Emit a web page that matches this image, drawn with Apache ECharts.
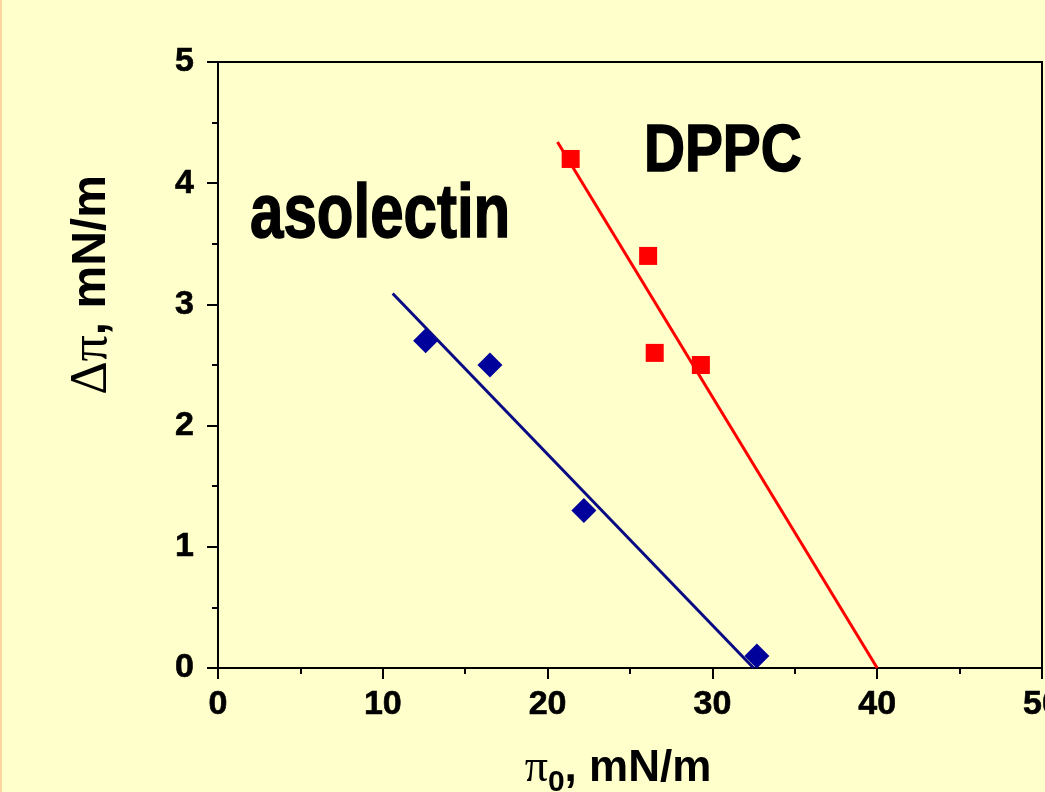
<!DOCTYPE html>
<html>
<head>
<meta charset="utf-8">
<script src="https://cdn.jsdelivr.net/npm/echarts@6/dist/echarts.min.js"></script>
<style>
	html, body { margin: 0; padding: 0; background: #FFFFCC; }
	#main { width: 1045px; height: 792px; }
</style>
</head>
<body>
<div id="main"></div>
<script>
// 数据
var dppcPoints = [[21.4, 4.2], [26.1, 3.4], [26.5, 2.6], [29.3, 2.5]];
var dppcFit = [[20.6, 4.34], [40.0, 0.0]];
var asolectinPoints = [[12.6, 2.7], [16.5, 2.5], [22.2, 1.3], [32.7, 0.1]];
var asolectinFit = [[10.6, 3.09], [32.5, 0.0]];
var xTicks = { min : 0, max : 50, interval : 10 };
var yTicks = { min : 0, max : 5, interval : 1 };

var FONT = '"Liberation Sans", Arial, sans-serif';

var myChart = echarts.init(document.getElementById('main'));

var axisCommon = {
	axisLine : { show : true, lineStyle : { color : '#000', width : 2 } },
	axisTick : { show : true, inside : false, length : 11, lineStyle : { color : '#000', width : 2 } },
	minorTick : { show : true, splitNumber : 2, length : 6, lineStyle : { color : '#000', width : 2 } },
	splitLine : { show : false },
	axisLabel : {
		color : '#000',
		fontFamily : FONT,
		fontWeight : 'bold',
		fontSize : 34,
		textBorderColor : '#000',
		textBorderWidth : 0.6
	}
};

option = {
	backgroundColor : '#FFFFCC',
	animation : false,
	grid : {
		left : 218,
		right : 3,
		top : 62,
		bottom : 124,
		outerBoundsMode : 'none',
		containLabel : false,
		show : true,
		borderColor : '#000',
		borderWidth : 2,
		backgroundColor : 'transparent'
	},
	xAxis : echarts.util.merge({
		type : 'value',
		min : xTicks.min,
		max : xTicks.max,
		interval : xTicks.interval,
		name : '{p|π}{s|0}{n|, mN/m}',
		nameLocation : 'middle',
		nameGap : 72,
		nameTextStyle : {
			padding : [0, 24, 0, 0],
			rich : {
				p : { fontFamily : '"Liberation Serif", serif', fontSize : 46, color : '#000' },
				s : { fontFamily : FONT, fontWeight : 'bold', fontSize : 30, color : '#000', padding : [28, 0, 0, 0] },
				n : { fontFamily : FONT, fontWeight : 'bold', fontSize : 44, color : '#000' }
			}
		},
		axisLabel : { margin : 20 }
	}, axisCommon),
	yAxis : echarts.util.merge({
		type : 'value',
		min : yTicks.min,
		max : yTicks.max,
		interval : yTicks.interval,
		name : '{p|Δπ}{n|, mN/m}',
		nameLocation : 'middle',
		nameRotate : 90,
		nameGap : 100,
		nameTextStyle : {
			padding : [0, 0, 0, 160],
			rich : {
				p : { fontFamily : '"Liberation Serif", serif', fontSize : 52, color : '#000' },
				n : { fontFamily : FONT, fontWeight : 'bold', fontSize : 48, color : '#000' }
			}
		},
		axisLabel : { margin : 24 }
	}, axisCommon),
	graphic : [
		{ type : 'rect', left : 0, top : 0, shape : { width : 2, height : 792 }, style : { fill : '#FFD6A0' } },
		{
			type : 'text', x : 250, y : 216, scaleX : 0.79,
			style : { text : 'asolectin', x : 0, y : 0, font : 'bold 76px ' + FONT, fill : '#000',
				stroke : '#000', lineWidth : 1.5,
				align : 'left', verticalAlign : 'middle', textAlign : 'left', textVerticalAlign : 'middle' }
		},
		{
			type : 'text', x : 644, y : 153, scaleX : 0.86,
			style : { text : 'DPPC', x : 0, y : 0, font : 'bold 66px ' + FONT, fill : '#000',
				stroke : '#000', lineWidth : 1.5,
				align : 'left', verticalAlign : 'middle', textAlign : 'left', textVerticalAlign : 'middle' }
		}
	],
	series : [
		{
			name : 'DPPC fit',
			type : 'line',
			data : dppcFit,
			symbol : 'none',
			lineStyle : { color : '#FF0000', width : 3 },
			z : 2
		},
		{
			name : 'asolectin fit',
			type : 'line',
			data : asolectinFit,
			symbol : 'none',
			lineStyle : { color : '#0A0A84', width : 3 },
			z : 2
		},
		{
			name : 'DPPC',
			type : 'scatter',
			data : dppcPoints,
			symbol : 'rect',
			symbolSize : 18,
			itemStyle : { color : '#FF0000', opacity : 1 },
			z : 3
		},
		{
			name : 'asolectin',
			type : 'scatter',
			data : asolectinPoints,
			symbol : 'diamond',
			symbolSize : 25,
			itemStyle : { color : '#00009A', opacity : 1 },
			z : 3
		}
	]
};
myChart.setOption(option);
</script>
</body>
</html>
